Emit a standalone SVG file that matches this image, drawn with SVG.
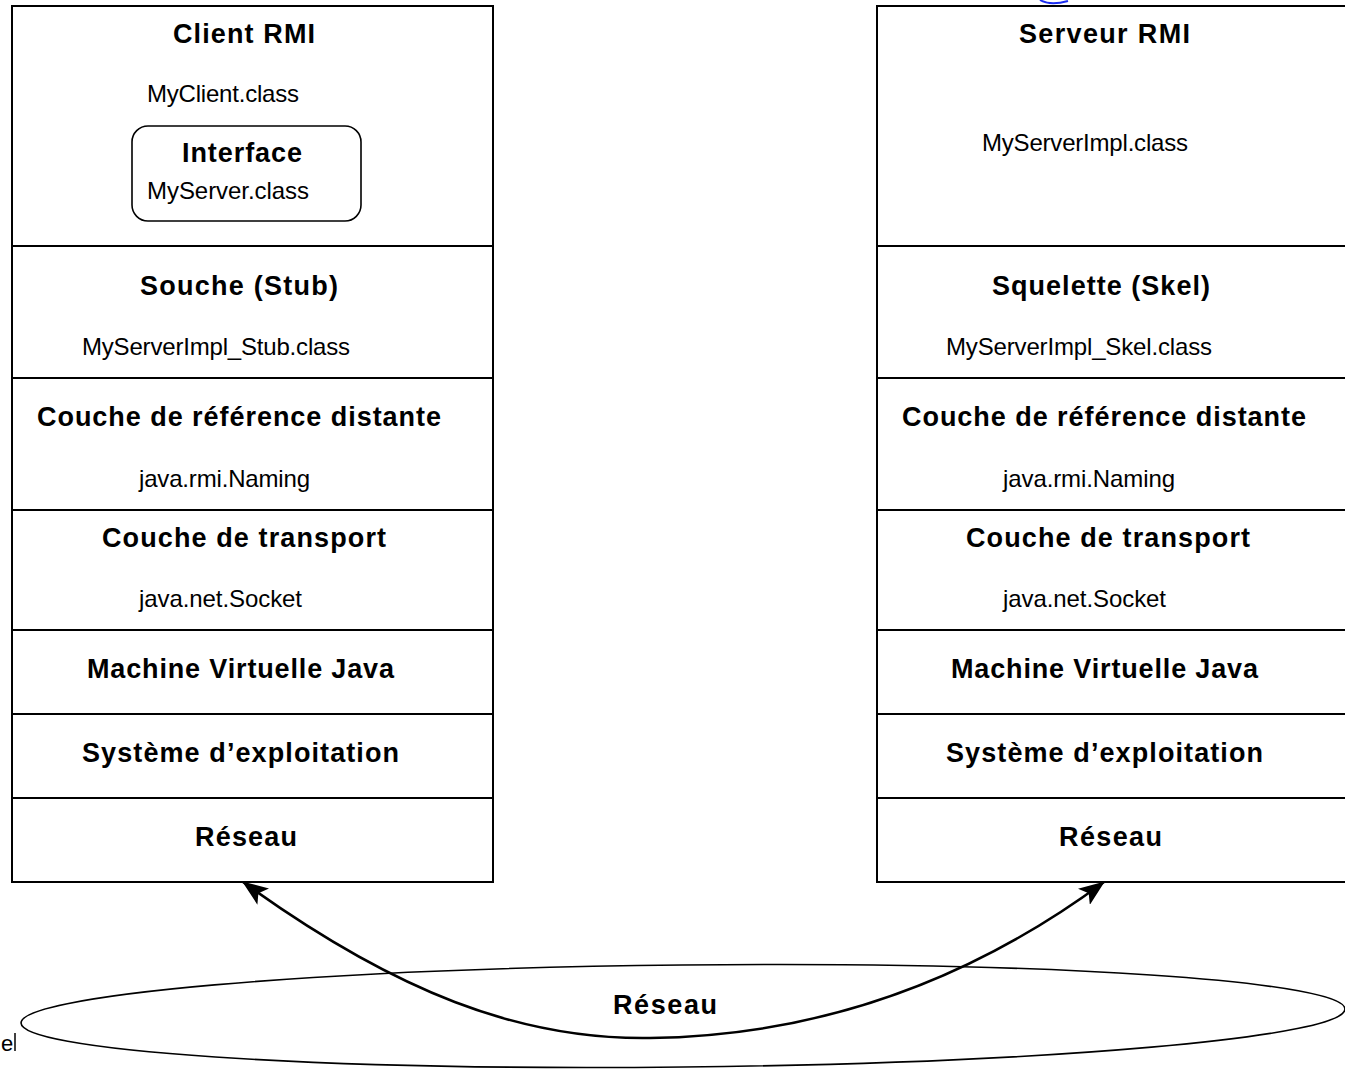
<svg xmlns="http://www.w3.org/2000/svg" width="1345" height="1069" viewBox="0 0 1345 1069">
<style>
.box{fill:#fff;stroke:#000;stroke-width:2}
.div{stroke:#000;stroke-width:2}
.b{font-family:"Liberation Sans",Arial,sans-serif;font-weight:bold;font-size:27px;fill:#000}
.r{font-family:"Liberation Sans",Arial,sans-serif;font-size:24px;fill:#000}
.conn{fill:none;stroke:#000;stroke-width:2.5}
.ell{fill:none;stroke:#000;stroke-width:1.6}
</style>
<defs>
<marker id="ah" viewBox="0 0 26 20" refX="25" refY="10" markerWidth="26" markerHeight="20" markerUnits="userSpaceOnUse" orient="auto-start-reverse">
<path d="M0,0 L26,10 L0,20 L6,10 Z" fill="#000"/>
</marker>
</defs>
<rect width="1345" height="1069" fill="#fff"/>
<path d="M1040,0 Q1050,6 1068,1" fill="none" stroke="#1a2cf0" stroke-width="2"/>
<text class="r" x="1" y="1051" style="font-size:22px">e</text>
<line x1="15" y1="1033" x2="15" y2="1051" stroke="#000" stroke-width="1.5"/>

<g id="client">
<rect class="box" x="12" y="6" width="481" height="876"/>
<line class="div" x1="12" y1="246" x2="493" y2="246"/>
<line class="div" x1="12" y1="378" x2="493" y2="378"/>
<line class="div" x1="12" y1="510" x2="493" y2="510"/>
<line class="div" x1="12" y1="630" x2="493" y2="630"/>
<line class="div" x1="12" y1="714" x2="493" y2="714"/>
<line class="div" x1="12" y1="798" x2="493" y2="798"/>
<text class="b" x="173" y="43" textLength="142">Client RMI</text>
<text class="r" x="147" y="102" textLength="152">MyClient.class</text>
<g id="interface">
<rect x="132" y="126" width="229" height="95" rx="16" fill="none" stroke="#000" stroke-width="1.6"/>
<text class="b" x="182" y="162" textLength="120">Interface</text>
<text class="r" x="147" y="199" textLength="162">MyServer.class</text>
</g>
<text class="b" x="140" y="295" textLength="198">Souche (Stub)</text>
<text class="r" x="82" y="355" textLength="268">MyServerImpl_Stub.class</text>
<text class="b" x="37" y="426" textLength="404">Couche de référence distante</text>
<text class="r" x="139" y="487" textLength="171">java.rmi.Naming</text>
<text class="b" x="102" y="547" textLength="284">Couche de transport</text>
<text class="r" x="139" y="607" textLength="163">java.net.Socket</text>
<text class="b" x="87" y="678" textLength="307">Machine Virtuelle Java</text>
<text class="b" x="82" y="762" textLength="317">Système d’exploitation</text>
<text class="b" x="195" y="846" textLength="102">Réseau</text>
</g>

<g id="serveur">
<rect class="box" x="877" y="6" width="480" height="876"/>
<line class="div" x1="877" y1="246" x2="1345" y2="246"/>
<line class="div" x1="877" y1="378" x2="1345" y2="378"/>
<line class="div" x1="877" y1="510" x2="1345" y2="510"/>
<line class="div" x1="877" y1="630" x2="1345" y2="630"/>
<line class="div" x1="877" y1="714" x2="1345" y2="714"/>
<line class="div" x1="877" y1="798" x2="1345" y2="798"/>
<text class="b" x="1019" y="43" textLength="171">Serveur RMI</text>
<text class="r" x="982" y="151" textLength="206">MyServerImpl.class</text>
<text class="b" x="992" y="295" textLength="218">Squelette (Skel)</text>
<text class="r" x="946" y="355" textLength="266">MyServerImpl_Skel.class</text>
<text class="b" x="902" y="426" textLength="404">Couche de référence distante</text>
<text class="r" x="1003" y="487" textLength="172">java.rmi.Naming</text>
<text class="b" x="966" y="547" textLength="284">Couche de transport</text>
<text class="r" x="1003" y="607" textLength="163">java.net.Socket</text>
<text class="b" x="951" y="678" textLength="307">Machine Virtuelle Java</text>
<text class="b" x="946" y="762" textLength="317">Système d’exploitation</text>
<text class="b" x="1059" y="846" textLength="103">Réseau</text>
</g>

<g id="reseau">
<ellipse class="ell" cx="683" cy="1016" rx="662" ry="51" transform="rotate(-0.6 683 1016)"/>
<text class="b" x="613" y="1014" textLength="104">Réseau</text>
</g>

<g id="connectors">
<path class="conn" d="M243,882 C395,992 520,1040 650,1038 C800,1036 955,992 1104,882" marker-start="url(#ah)" marker-end="url(#ah)"/>
</g>
</svg>
